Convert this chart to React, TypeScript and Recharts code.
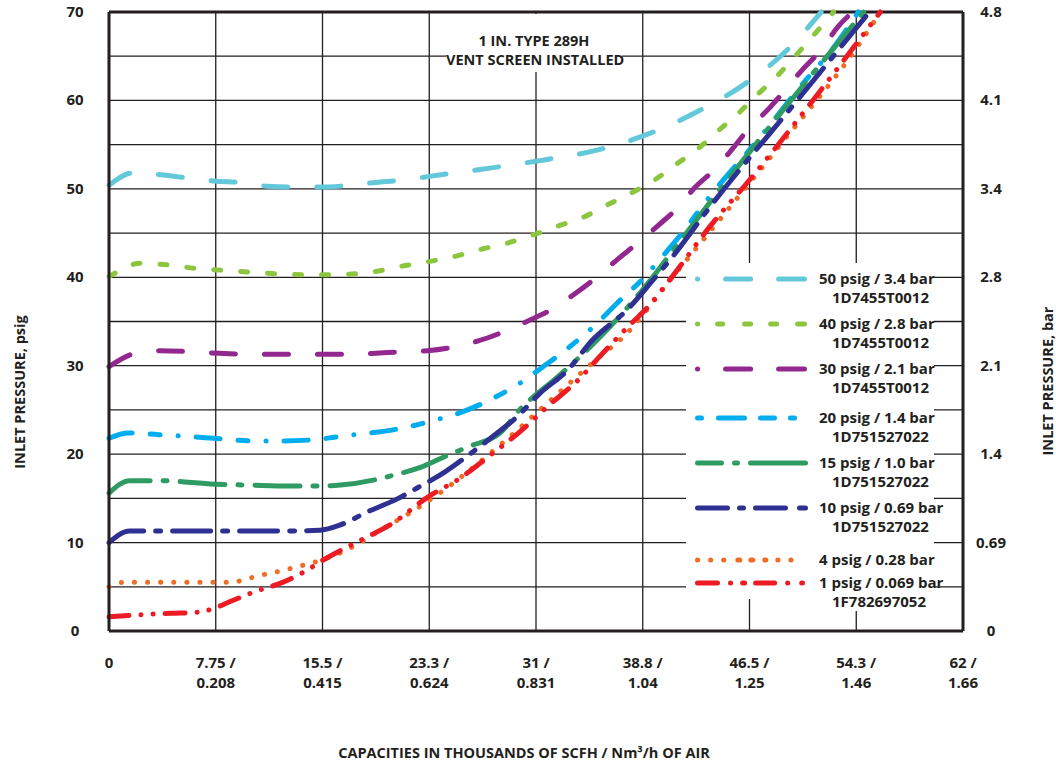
import React from "react";
import { CartesianGrid, Line, LineChart, ReferenceLine, XAxis, YAxis } from "recharts";

const FONT = '"Open Sans", "Noto Sans", sans-serif';
const INK = "#231f20";

// capacity axis (thousands of SCFH), labels also show Nm3/h
const X_TICKS = [0, 7.75, 15.5, 23.25, 31, 38.75, 46.5, 54.25, 62];
const X_SCFH_LABELS = ["0", "7.75 /", "15.5 /", "23.3 /", "31 /", "38.8 /", "46.5 /", "54.3 /", "62 /"];
const X_NM3_LABELS = ["", "0.208", "0.415", "0.624", "0.831", "1.04", "1.25", "1.46", "1.66"];

const GRID_TICKS = [0, 5, 10, 15, 20, 25, 30, 35, 40, 45, 50, 55, 60, 65, 70];
const PSIG_TICKS = [0, 10, 20, 30, 40, 50, 60, 70];
const BAR_LABELS = ["0", "0.69", "1.4", "2.1", "2.8", "3.4", "4.1", "4.8"];

// [capacity, inlet psig]
const PSIG_50 = [
  [0, 50.4], [1.7, 51.8], [3.7, 51.6], [5.9, 51.2], [7.6, 50.9], [9.7, 50.7], [11.5, 50.3],
  [13.6, 50.2], [15.3, 50.2], [17.5, 50.4], [19.2, 50.7], [21.3, 51.0], [24.1, 51.6],
  [27.9, 52.4], [31.7, 53.3], [35.5, 54.4], [39.3, 56.3], [42.8, 58.8], [46.2, 61.9],
  [49.1, 65.5], [51.7, 70],
];
const PSIG_40 = [
  [0, 40.1], [1.0, 40.9], [2.2, 41.6], [4.3, 41.4], [6.3, 41.0], [8.2, 40.8], [10.1, 40.6],
  [12.0, 40.4], [14.0, 40.3], [16.0, 40.3], [18.0, 40.4], [19.1, 40.6], [21.4, 41.3],
  [23.3, 41.8], [25.2, 42.4], [27.1, 43.2], [29.0, 43.9], [30.8, 44.8], [32.6, 45.8],
  [34.3, 46.7], [36.2, 48.2], [38.0, 49.6], [39.6, 51.0], [41.2, 52.8], [42.8, 54.6],
  [44.1, 56.4], [45.6, 58.4], [46.9, 60.4], [48.4, 62.6], [49.7, 64.8], [51.0, 67.1], [52.6, 70],
];
const PSIG_30 = [
  [0, 29.9], [1.9, 31.4], [3.7, 31.7], [5.7, 31.6], [8.0, 31.4], [11.0, 31.3], [14.3, 31.3],
  [17.5, 31.3], [20.3, 31.5], [23.1, 31.7], [25.3, 32.2], [26.8, 32.8], [28.9, 34.0],
  [30.6, 35.2], [32.4, 36.6], [33.7, 38.0], [35.4, 40.0], [36.9, 42.0], [38.4, 43.9],
  [39.9, 45.9], [41.3, 47.9], [42.5, 50.1], [44.1, 52.4], [45.2, 54.4], [46.5, 56.9],
  [47.8, 58.9], [49.2, 61.4], [50.3, 63.4], [51.8, 65.9], [52.9, 68.3], [54.0, 70],
];
const PSIG_20 = [
  [0, 21.8], [1.4, 22.4], [3.6, 22.2], [5.7, 22.0], [7.6, 21.8], [10.5, 21.5], [12.7, 21.5],
  [14.6, 21.6], [17.3, 22.1], [20.8, 22.8], [23.8, 23.9], [25.7, 24.8], [27.2, 25.8],
  [29.8, 28.0], [31.7, 30.1], [33.0, 31.6], [35.3, 34.6], [36.9, 37.1], [38.8, 39.9],
  [40.1, 42.2], [41.5, 44.8], [43.6, 49.1], [47.3, 55.9], [50.0, 61.2], [52.9, 66.6], [54.4, 70],
];
const PSIG_15 = [
  [0, 15.6], [1.5, 17.0], [3.7, 17.0], [7.7, 16.6], [10.2, 16.5], [13.1, 16.4], [15.3, 16.4],
  [16.8, 16.5], [19.3, 17.1], [20.6, 17.6], [22.6, 18.5], [24.2, 19.6], [26.2, 20.9],
  [28.4, 22.4], [29.8, 25.0], [32.7, 28.9], [36.0, 33.8], [38.9, 38.9], [40.5, 42.1],
  [43.2, 47.6], [49.3, 59.6], [54.8, 70],
];
const PSIG_10 = [
  [0, 10.0], [1.5, 11.3], [4.0, 11.3], [8.0, 11.3], [12.0, 11.3], [15.3, 11.4], [16.8, 12.0],
  [18.8, 13.5], [21.0, 15.0], [22.4, 16.2], [24.4, 18.0], [26.1, 19.9], [27.7, 21.8],
  [29.6, 24.2], [31.3, 26.9], [33.3, 29.5], [35.1, 32.9], [37.6, 36.3], [39.5, 39.7],
  [40.9, 42.3], [43.6, 47.9], [49.8, 59.7], [55.2, 70],
];
const PSIG_4 = [
  [0, 5.0], [1.0, 5.5], [4.0, 5.5], [8.9, 5.5], [10.0, 5.9], [11.0, 6.3], [12.5, 6.8],
  [14.0, 7.4], [15.4, 8.0], [17.3, 9.2], [19.7, 11.4], [22.4, 13.9], [24.8, 16.5],
  [26.2, 18.2], [28.6, 21.3], [32.7, 27.0], [35.6, 31.0], [37.3, 33.2], [40.9, 40.0],
  [48.9, 55.3], [54.3, 66.0], [56.0, 70],
];
const PSIG_1 = [
  [0, 1.6], [1.9, 1.8], [4.5, 2.0], [6.3, 2.1], [7.7, 2.6], [8.6, 3.2], [10.5, 4.4],
  [12.6, 5.5], [14.4, 6.9], [15.3, 7.8], [17.3, 9.5], [18.7, 10.6], [20.4, 12.0],
  [23.2, 15.2], [25.5, 17.3], [27.7, 19.9], [29.8, 22.5], [32.0, 25.6], [34.2, 28.6],
  [35.6, 31.0], [37.8, 34.6], [39.1, 36.6], [41.0, 40.3], [43.6, 45.7], [46.5, 51.0],
  [51.1, 60.0], [56.0, 70],
];

const toPoints = (rows: number[][]) => rows.map(([x, p]) => ({ x, p }));

// legend swatch pieces are [start, end] in page px (visible ink, round caps)
const SERIES = [
  { name: "50 psig / 3.4 bar", code: "1D7455T0012", data: PSIG_50, color: "#62c8da", dash: "24 29", swatch: [[695, 700], [723, 753], [776, 807]], row: 279 },
  { name: "40 psig / 2.8 bar", code: "1D7455T0012", data: PSIG_40, color: "#8cc63f", dash: "7 20", swatch: [[695, 700], [715, 725], [742, 753], [768, 779], [795, 807]], row: 324 },
  { name: "30 psig / 2.1 bar", code: "1D7455T0012", data: PSIG_30, color: "#92278f", dash: "24 29", swatch: [[695, 700], [723, 753], [776, 807]], row: 369 },
  { name: "20 psig / 1.4 bar", code: "1D751527022", data: PSIG_20, color: "#00aeef", dash: "24 18 10 18 0.1 18", swatch: [[695, 704], [716, 747], [758, 777], [788, 797]], row: 418 },
  { name: "15 psig / 1.0 bar", code: "1D751527022", data: PSIG_15, color: "#2e9b62", dash: "45 13 4 13", swatch: [[695, 724], [732, 740], [748, 808]], row: 463 },
  { name: "10 psig / 0.69 bar", code: "1D751527022", data: PSIG_10, color: "#2e3192", dash: "38 12 5 12", swatch: [[695, 730], [737, 746], [753, 788], [797, 808]], row: 508 },
  { name: "4 psig / 0.28 bar", code: "", data: PSIG_4, color: "#f26b24", dash: "0.1 13", swatch: [[695, 700], [708, 713], [721, 726], [735, 742], [748, 755], [762, 768], [775, 780], [788, 793], [801, 806]], row: 560 },
  { name: "1 psig / 0.069 bar", code: "1F782697052", data: PSIG_1, color: "#ed1c24", dash: "20 12 0.1 12 0.1 12", swatch: [[695, 720], [728, 733], [740, 747], [753, 777], [785, 790], [799, 805]], row: 583 },
];

function swatchDash(pieces: number[][]) {
  const cap = 2.5;
  const x1 = pieces[0][0] + cap;
  const parts: number[] = [];
  let cursor = x1;
  pieces.forEach(([s, e]) => {
    const a = s + cap;
    const b = Math.max(a, e - cap);
    if (parts.length) parts.push(a - cursor);
    parts.push(Math.max(0.1, b - a));
    cursor = b;
  });
  parts.push(40);
  return { x1, x2: cursor, dash: parts.join(" ") };
}

const tickText = { fontFamily: FONT, fontWeight: 700, fontSize: 15, fill: INK };

// psig on the left, the matching bar value on the right, both on the same gridline
function PressureTick({ y, payload }: any) {
  const i = PSIG_TICKS.indexOf(payload.value);
  if (i < 0) return <g />;
  return (
    <g>
      <text x={75} y={y} dy={5} textAnchor="middle" style={tickText}>
        {payload.value}
      </text>
      <text x={991} y={y} dy={5} textAnchor="middle" style={tickText}>
        {BAR_LABELS[i]}
      </text>
    </g>
  );
}

function BottomTick({ x, payload }: any) {
  const i = X_TICKS.indexOf(payload.value);
  return (
    <g>
      <text x={x} y={668} textAnchor="middle" style={tickText}>
        {X_SCFH_LABELS[i]}
      </text>
      <text x={x} y={688} textAnchor="middle" style={tickText}>
        {X_NM3_LABELS[i]}
      </text>
    </g>
  );
}

const rotated = (left: number, top: number): React.CSSProperties => ({
  position: "absolute",
  left,
  top,
  transform: "translate(-50%, -50%) rotate(-90deg)",
  whiteSpace: "nowrap",
  fontWeight: 700,
  fontSize: 14.5,
  color: INK,
});

export default function App() {
  return (
    <div
      style={{
        position: "absolute",
        left: 0,
        top: 0,
        width: 1056,
        height: 765,
        background: "#fff",
        fontFamily: FONT,
        overflow: "hidden",
      }}
    >
      <LineChart width={1056} height={765} margin={{ top: 12, right: 93, bottom: 0, left: 0 }}>
        <CartesianGrid stroke={INK} strokeWidth={1.3} />
        <XAxis
          dataKey="x"
          type="number"
          domain={[0, 62]}
          ticks={X_TICKS}
          interval={0}
          height={134}
          tickLine={false}
          axisLine={{ stroke: INK, strokeWidth: 3 }}
          tick={<BottomTick />}
        />
        <YAxis
          type="number"
          domain={[0, 70]}
          ticks={GRID_TICKS}
          interval={0}
          width={109}
          tickLine={false}
          axisLine={{ stroke: INK, strokeWidth: 3 }}
          tick={<PressureTick />}
        />
        <ReferenceLine y={70} stroke={INK} strokeWidth={3} />
        <ReferenceLine x={62} stroke={INK} strokeWidth={3} />
        {SERIES.map((s) => (
          <Line
            key={s.name}
            data={toPoints(s.data)}
            dataKey="p"
            type="monotone"
            stroke={s.color}
            strokeWidth={5}
            strokeDasharray={s.dash}
            strokeLinecap="round"
            dot={false}
            activeDot={false}
            isAnimationActive={false}
          />
        ))}
      </LineChart>

      {/* chart title box */}
      <div
        style={{
          position: "absolute",
          left: 446,
          top: 14,
          width: 176,
          height: 58,
          background: "#fff",
          textAlign: "center",
          fontWeight: 700,
          fontSize: 14.5,
          color: INK,
          lineHeight: "19px",
        }}
      >
        <div style={{ marginTop: 17 }}>1 IN. TYPE 289H</div>
        <div style={{ whiteSpace: "nowrap" }}>VENT SCREEN INSTALLED</div>
      </div>

      {/* legend */}
      <div
        style={{
          position: "absolute",
          left: 686,
          top: 263,
          width: 248,
          height: 336,
          background: "#fff",
        }}
      />
      {SERIES.map((s) => {
        const sw = swatchDash(s.swatch);
        return (
          <React.Fragment key={s.name}>
            <svg
              width={130}
              height={12}
              style={{ position: "absolute", left: 686, top: s.row - 6 }}
            >
              <line
                x1={sw.x1 - 686}
                x2={sw.x2 - 686}
                y1={6}
                y2={6}
                stroke={s.color}
                strokeWidth={5}
                strokeLinecap="round"
                strokeDasharray={sw.dash}
              />
            </svg>
            <div
              style={{
                position: "absolute",
                left: 819,
                top: s.row - 10,
                fontWeight: 700,
                fontSize: 15,
                lineHeight: "19px",
                color: INK,
                whiteSpace: "nowrap",
              }}
            >
              <div>{s.name}</div>
              {s.code && <div style={{ paddingLeft: 13, background: "#fff", width: "fit-content" }}>{s.code}</div>}
            </div>
          </React.Fragment>
        );
      })}

      {/* axis titles */}
      <div style={rotated(19, 392)}>INLET PRESSURE, psig</div>
      <div style={rotated(1047, 381)}>INLET PRESSURE, bar</div>
      <div
        style={{
          position: "absolute",
          left: 524,
          top: 752,
          transform: "translate(-50%, -50%)",
          whiteSpace: "nowrap",
          fontWeight: 700,
          fontSize: 14.5,
          color: INK,
        }}
      >
        CAPACITIES IN THOUSANDS OF SCFH / Nm³/h OF AIR
      </div>
    </div>
  );
}
